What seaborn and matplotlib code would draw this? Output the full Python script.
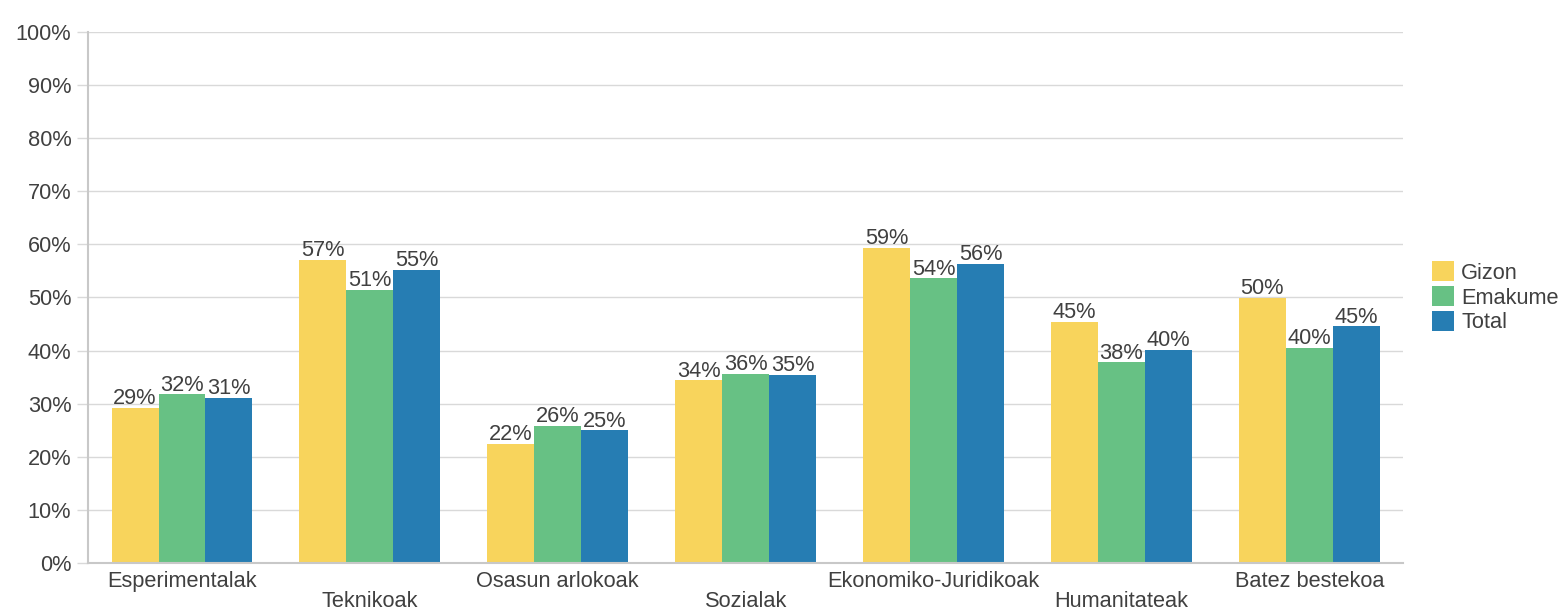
import matplotlib
matplotlib.use("Agg")
import matplotlib.pyplot as plt
import seaborn as sns
import pandas as pd
import numpy as np

categories = ["Esperimentalak", "Teknikoak", "Osasun arlokoak", "Sozialak",
              "Ekonomiko-Juridikoak", "Humanitateak", "Batez bestekoa"]
series = ["Gizon", "Emakume", "Total"]
gizon = [29.2, 57.1, 22.4, 34.4, 59.3, 45.4, 49.9]
emakume = [31.8, 51.4, 25.8, 35.6, 53.6, 37.8, 40.5]
total = [31.1, 55.2, 25.0, 35.4, 56.3, 40.1, 44.6]
colors = ["#F8D45C", "#67C184", "#267DB3"]
yticks = list(range(0, 101, 10))

rows = []
for s, vals in zip(series, [gizon, emakume, total]):
    for c, v in zip(categories, vals):
        rows.append({"cat": c, "serie": s, "val": v})
df = pd.DataFrame(rows)

sns.set_theme(style="white")
plt.rcParams["font.family"] = ["Liberation Sans", "DejaVu Sans"]
txt = "#404040"
fs = 15.7

fig = plt.figure(figsize=(15.61, 6.12), dpi=100)
ax = fig.add_axes([0.0564, 0.080, 0.8426, 0.868])
sns.barplot(data=df, x="cat", y="val", hue="serie", palette=colors,
            order=categories, hue_order=series, width=0.75, saturation=1,
            ax=ax, legend=True, errorbar=None, linewidth=0, edgecolor="none")

for cont in ax.containers:
    labels = [f"{round(b.get_height()):d}%" for b in cont]
    ax.bar_label(cont, labels=labels, padding=-1, fontsize=fs, color=txt)

ax.set_ylim(0, 100)
ax.set_xlim(-0.5, len(categories) - 0.5)
ax.set_yticks(yticks)
ax.set_yticklabels([f"{t}%" for t in yticks], fontsize=fs, color=txt)
ax.set_xticks(range(len(categories)))
ax.set_xticklabels(categories, fontsize=fs, color=txt)
for i, lab in enumerate(ax.get_xticklabels()):
    if i % 2 == 1:
        lab.set_y(-0.037)
ax.set_xlabel("")
ax.set_ylabel("")
ax.yaxis.grid(True, color="#d9d9d9", linewidth=1)
ax.set_axisbelow(True)
for side in ["top", "right"]:
    ax.spines[side].set_visible(False)
for side in ["left", "bottom"]:
    ax.spines[side].set_color("#c8c8c8")
    ax.spines[side].set_linewidth(1.5)
ax.tick_params(axis="y", which="both", left=True, length=8, color="#d9d9d9", width=1, pad=4)
ax.tick_params(axis="x", length=0, pad=6)

leg = ax.legend(loc="center left", bbox_to_anchor=(1.015, 0.5), frameon=False,
                fontsize=fs, handlelength=1.0, handleheight=1.0, handletextpad=0.35,
                labelspacing=0.12, borderaxespad=0)
for t in leg.get_texts():
    t.set_color(txt)

fig.savefig("out.png", dpi=100)
